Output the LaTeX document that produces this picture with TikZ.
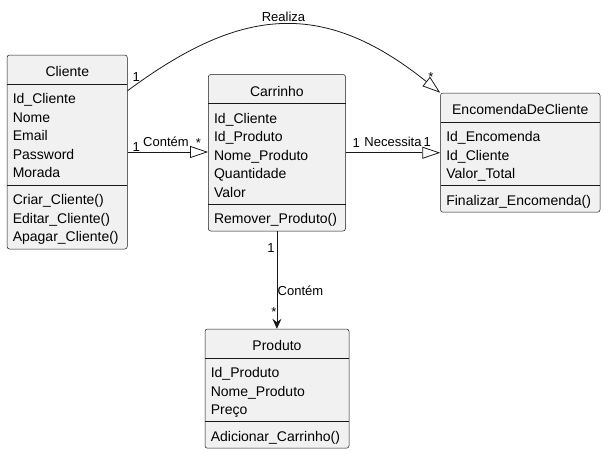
\documentclass[tikz,border=0pt]{standalone}
\usepackage{fontspec}
\setmainfont{Liberation Sans}
\usetikzlibrary{arrows.meta,calc}
\definecolor{cls}{HTML}{F1F1F1}
\definecolor{ln}{HTML}{181818}
\begin{document}
\begin{tikzpicture}[x=1pt,y=-1pt,
  classbox/.style={draw=ln, fill=cls, line width=0.5pt, rounded corners=2.5pt, inner sep=0pt},
  attr/.style={anchor=base west, inner sep=0pt, font=\fontsize{14}{16}\selectfont},
  ctitle/.style={anchor=base, inner sep=0pt, font=\fontsize{14}{16}\selectfont},
  lbl/.style={anchor=base, inner sep=0pt, font=\fontsize{13}{15}\selectfont},
  sepline/.style={draw=ln, line width=0.5pt},
  conn/.style={draw=ln, line width=0.8pt},
  ext/.style={conn, -{Triangle[length=18pt,width=12pt,fill=white,line width=0.8pt]}},
  assoc/.style={conn, -{Stealth[length=10pt,width=9pt,inset=3.5pt]}}
]
\useasboundingbox (0,0) rectangle (604,453);

% ---------- Cliente ----------
\node[classbox, minimum width=120.3pt, minimum height=194pt] (cli) at (67.15,152) {};
\node[ctitle] (clit) at (67.3,76.7) {Cliente};
\draw[sepline] (7,84) -- (127.3,84);
\node[attr] (cla1) at (12.6,103.5) {Id\_Cliente};
\node[attr] (cla2) at (12.6,122.1) {Nome};
\node[attr] (cla3) at (12.6,140.7) {Email};
\node[attr] (cla4) at (12.6,159.3) {Password};
\node[attr] (cla5) at (12.6,177.9) {Morada};
\draw[sepline] (7,184.9) -- (127.3,184.9);
\node[attr] (clm1) at (12.6,204.4) {Criar\_Cliente()};
\node[attr] (clm2) at (12.6,223.0) {Editar\_Cliente()};
\node[attr] (clm3) at (12.6,241.6) {Apagar\_Cliente()};

% ---------- Carrinho ----------
\node[classbox, minimum width=137.2pt, minimum height=156.5pt] (car) at (276.9,152.75) {};
\node[ctitle] (cart) at (276.9,96.2) {Carrinho};
\draw[sepline] (208.3,103.5) -- (345.5,103.5);
\node[attr] (caa1) at (213.9,123.0) {Id\_Cliente};
\node[attr] (caa2) at (213.9,141.6) {Id\_Produto};
\node[attr] (caa3) at (213.9,160.2) {Nome\_Produto};
\node[attr] (caa4) at (213.9,178.8) {Quantidade};
\node[attr] (caa5) at (213.9,197.4) {Valor};
\draw[sepline] (208.3,204.4) -- (345.5,204.4);
\node[attr] (cam1) at (213.9,223.9) {Remover\_Produto()};

% ---------- EncomendaDeCliente ----------
\node[classbox, minimum width=159.5pt, minimum height=119.2pt] (enc) at (520.25,152.6) {};
\node[ctitle] (enct) at (520.25,114.7) {EncomendaDeCliente};
\draw[sepline] (440.5,122) -- (600,122);
\node[attr] (ena1) at (446.1,141.5) {Id\_Encomenda};
\node[attr] (ena2) at (446.1,160.1) {Id\_Cliente};
\node[attr] (ena3) at (446.1,178.7) {Valor\_Total};
\draw[sepline] (440.5,185.7) -- (600,185.7);
\node[attr] (enm1) at (446.1,205.2) {Finalizar\_Encomenda()};

% ---------- Produto ----------
\node[classbox, minimum width=144pt, minimum height=119.2pt] (pro) at (277,388.6) {};
\node[ctitle] (prot) at (277,350.7) {Produto};
\draw[sepline] (205,358) -- (349,358);
\node[attr] (pra1) at (210.6,377.5) {Id\_Produto};
\node[attr] (pra2) at (210.6,396.1) {Nome\_Produto};
\node[attr] (pra3) at (210.6,414.7) {Preço};
\draw[sepline] (205,421.7) -- (349,421.7);
\node[attr] (prm1) at (210.6,441.2) {Adicionar\_Carrinho()};

% ---------- connectors ----------
\coordinate (rs) at ($(cli.north east)+(0,36)$);
\draw[ext] (rs) .. controls (237.3,9.5) and (320,-3.8) .. (enc.north west);
\draw[ext] (cli.east) -- (cli.east -| car.west);
\draw[ext] (car.east) -- (car.east -| enc.west);
\draw[assoc] (car.south) -- (car.south |- pro.north);

% ---------- labels ----------
\node[lbl] (r1) at (136.2,81.5) {1};
\node[lbl] (r2) at (431,81) {*};
\node[lbl] (r3) at (283.5,21.7) {Realiza};
\node[lbl] (c1) at (136.2,151.5) {1};
\node[lbl] (c2) at (166,146.7) {Contém};
\node[lbl] (c3) at (198.5,147.3) {*};
\node[lbl] (n1) at (356.2,147.3) {1};
\node[lbl] (n2) at (393,146) {Necessita};
\node[lbl] (n3) at (427.2,146.7) {1};
\node[lbl] (v1) at (271,252.7) {1};
\node[lbl] (v2) at (300.5,295.7) {Contém};
\node[lbl] (v3) at (274,316) {*};
\end{tikzpicture}
\end{document}
